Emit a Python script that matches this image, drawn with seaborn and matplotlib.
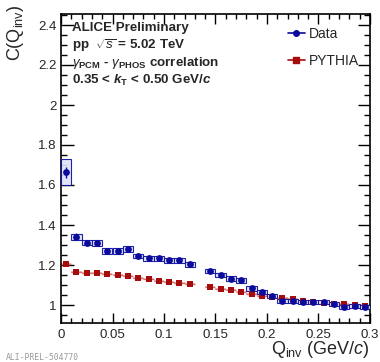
import numpy as np
import pandas as pd
import matplotlib
matplotlib.use("Agg")
import matplotlib.pyplot as plt
import seaborn as sns
from matplotlib.patches import Rectangle
from matplotlib.ticker import MultipleLocator
from matplotlib.lines import Line2D

# ---- data ----
data_q = [0.005, 0.015, 0.025, 0.035, 0.045, 0.055, 0.065, 0.075, 0.085, 0.095,
          0.105, 0.115, 0.125, 0.145, 0.155, 0.165, 0.175, 0.185, 0.195, 0.205,
          0.215, 0.225, 0.235, 0.245, 0.255, 0.265, 0.275, 0.285, 0.295]
data_c = [1.664, 1.342, 1.312, 1.310, 1.270, 1.270, 1.280, 1.245, 1.233, 1.233,
          1.223, 1.224, 1.203, 1.171, 1.150, 1.132, 1.123, 1.083, 1.067, 1.046,
          1.022, 1.020, 1.013, 1.013, 1.013, 1.003, 0.991, 0.994, 0.991]
data_stat = [0.028, 0.018, 0.012, 0.011, 0.009, 0.009, 0.009, 0.008, 0.008, 0.008,
             0.007, 0.007, 0.007, 0.007, 0.007, 0.006, 0.006, 0.006, 0.006, 0.006,
             0.005, 0.005, 0.005, 0.005, 0.005, 0.005, 0.005, 0.005, 0.005]
data_syst = [0.066, 0.015, 0.014, 0.013, 0.013, 0.013, 0.013, 0.012, 0.012, 0.012,
             0.012, 0.012, 0.012, 0.011, 0.011, 0.011, 0.011, 0.011, 0.010, 0.010,
             0.010, 0.010, 0.010, 0.010, 0.010, 0.010, 0.010, 0.010, 0.010]

pyth_q = data_q
pyth_c = [1.205, 1.167, 1.162, 1.158, 1.153, 1.148, 1.146, 1.135, 1.128, 1.122,
          1.117, 1.112, 1.104, 1.092, 1.082, 1.073, 1.064, 1.056, 1.047, 1.041,
          1.037, 1.030, 1.021, 1.016, 1.011, 1.006, 1.003, 0.999, 0.995]
pyth_err = [0.005] * len(pyth_q)
bin_half = 0.005

labels = ["Data", "PYTHIA"]
blue = "#0a0a9c"
red = "#a50d0d"

df_d = pd.DataFrame({"q": data_q, "c": data_c, "series": "Data"})
df_p = pd.DataFrame({"q": pyth_q, "c": pyth_c, "series": "PYTHIA"})

sns.set_style("ticks")
plt.rcParams["font.family"] = ["Liberation Sans", "DejaVu Sans"]
plt.rcParams["mathtext.fontset"] = "custom"
plt.rcParams["mathtext.rm"] = "Liberation Sans"
plt.rcParams["mathtext.it"] = "Liberation Sans:italic"
plt.rcParams["mathtext.bf"] = "Liberation Sans:bold"
plt.rcParams["mathtext.bfit"] = "Liberation Sans:bold:italic"

fig = plt.figure(figsize=(3.8, 3.62), dpi=100)
ax = fig.add_axes([61/380, 1-323/362, 309/380, 309/362])

# PYTHIA error band (horizontal bin width, light red)
for q, c, e in zip(pyth_q, pyth_c, pyth_err):
    ax.add_patch(Rectangle((q - bin_half, c - e), 2*bin_half, 2*e,
                           facecolor="#eab0b0", edgecolor="none", alpha=0.8, zorder=2))
ax.errorbar(pyth_q, pyth_c, xerr=bin_half, fmt="none", ecolor="#d87070", elinewidth=1.0, zorder=2)

# Data systematic boxes
for q, c, s in zip(data_q, data_c, data_syst):
    ax.add_patch(Rectangle((q - bin_half, c - s), 2*bin_half, 2*s,
                           facecolor="#dfe3f7", edgecolor=blue, linewidth=0.8, alpha=0.9, zorder=3))
ax.errorbar(data_q, data_c, yerr=data_stat, fmt="none", ecolor=blue, elinewidth=1.0, zorder=4)

sns.scatterplot(data=df_p, x="q", y="c", marker="s", color=red, s=20, edgecolor=red,
                linewidth=0, ax=ax, zorder=5, legend=False)
sns.scatterplot(data=df_d, x="q", y="c", marker="o", color=blue, s=24, edgecolor=blue,
                linewidth=0, ax=ax, zorder=6, legend=False)

ax.xaxis.set_major_locator(MultipleLocator(0.05))
ax.xaxis.set_minor_locator(MultipleLocator(0.01))
ax.yaxis.set_major_locator(MultipleLocator(0.2))
ax.yaxis.set_minor_locator(MultipleLocator(0.05))
ax.set_xticks([0, 0.05, 0.1, 0.15, 0.2, 0.25, 0.3])
ax.set_xticklabels(["0", "0.05", "0.1", "0.15", "0.2", "0.25", "0.3"])
ax.set_yticks([1.0, 1.2, 1.4, 1.6, 1.8, 2.0, 2.2, 2.4])
ax.set_yticklabels(["1", "1.2", "1.4", "1.6", "1.8", "2", "2.2", "2.4"])
ax.set_xlim(0, 0.3)
ax.set_ylim(0.91, 2.455)
ax.tick_params(which="both", direction="in", top=True, right=True, labelsize=9.5,
               color="black", width=1.0)
ax.tick_params(axis="y", which="major", length=9)
ax.tick_params(axis="y", which="minor", length=4.5)
ax.tick_params(axis="x", which="major", length=7)
ax.tick_params(axis="x", which="minor", length=3.5)
ax.tick_params(axis="x", pad=4)
ax.tick_params(axis="y", pad=3)
for sp in ax.spines.values():
    sp.set_linewidth(1.2)
    sp.set_color("black")

ax.set_xlabel("")
ax.set_ylabel("")
fig.text(370/380, 1-350/362, r"Q$_{\rm inv}$ (GeV/$c$)", ha="right", va="center", fontsize=13)
fig.text(15/380, 1-4/362, r"C(Q$_{\rm inv}$)", ha="center", va="top", rotation=90, fontsize=13)

# annotations
tx = 0.036
fs = 9.6
ax.text(tx, 1-(28-14)/309, "ALICE Preliminary", transform=ax.transAxes, fontsize=fs,
        fontweight="bold", va="center", ha="left")
ax.text(tx, 1-(46-14)/309, r"pp  $\mathbf{\sqrt{\mathit{s}}}$ = 5.02 TeV", transform=ax.transAxes,
        fontsize=fs, fontweight="bold", va="center", ha="left")
ax.text(tx, 1-(63-14)/309, r"$\gamma_{\mathbf{PCM}}$ - $\gamma_{\mathbf{PHOS}}$ correlation",
        transform=ax.transAxes, fontsize=fs, fontweight="bold", va="center", ha="left")
ax.text(tx, 1-(80-14)/309, r"0.35 < $\boldsymbol{k}_{\mathbf{T}}$ < 0.50 GeV/$\boldsymbol{c}$",
        transform=ax.transAxes, fontsize=fs, fontweight="bold", va="center", ha="left")

# legend
handles = [Line2D([0], [0], color=blue, marker="o", markersize=4, lw=1.2),
           Line2D([0], [0], color=red, marker="s", markersize=4, lw=1.2)]
leg = ax.legend(handles, labels, loc="upper right", bbox_to_anchor=(1.0, 0.995), frameon=False,
                fontsize=10, handlelength=1.2, handletextpad=0.3, labelspacing=0.95,
                borderaxespad=0.4)

fig.text(6/380, 1-358/362, "ALI-PREL-504770", fontsize=5.9, color="#9a9a9a",
         family="DejaVu Sans Mono", ha="left", va="center")

fig.savefig("out.png", dpi=100)
